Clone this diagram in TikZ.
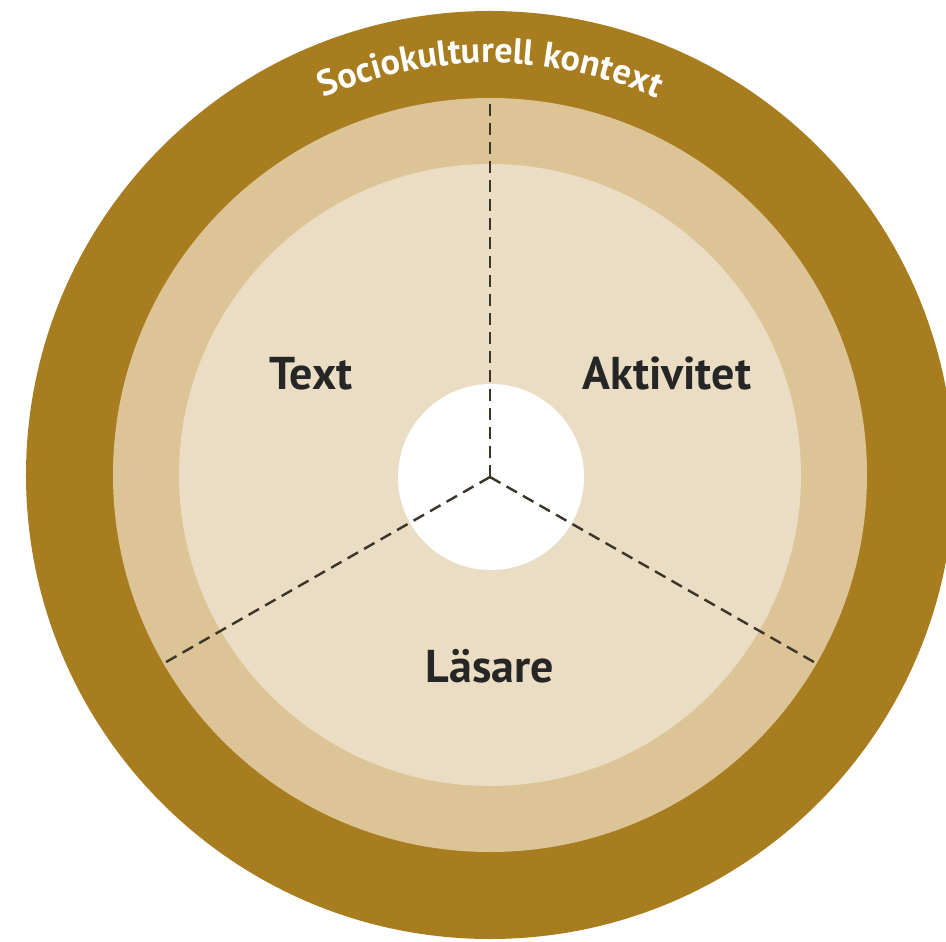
\documentclass[tikz,border=0pt]{standalone}
\usepackage{fontspec}
\setmainfont{PT Sans}
\usetikzlibrary{positioning, decorations.text}
\definecolor{ringdark}{HTML}{A87D20}
\definecolor{ringmid}{HTML}{DCC496}
\definecolor{ringlight}{HTML}{EADDC3}
\definecolor{spoke}{HTML}{3B3428}
\tikzset{
	spokeline/.style={line width=1.2pt, draw=spoke, dash pattern=on 6pt off 3.5pt},
	label/.style={font=\fontsize{23}{26}\selectfont\bfseries, text=black!85},
}

\begin{document}
\begin{tikzpicture}[x=0.5pt, y=0.5pt]
		\useasboundingbox (-490,-466) rectangle (456,475);
		\clip (-490,-466) rectangle (456,475);
		% rings
		\fill[ringdark] (0,0) circle[radius=464];
		\fill[ringmid] (0,0) circle[radius=377];
		\fill[ringlight] (0,0) circle[radius=311];
		\fill[white] (1,-2) circle[radius=93];

		% curved title
		\path[decorate, decoration={text along path, text align=center,
			text={|\fontsize{18}{21}\selectfont\bfseries\color{white}|Sociokulturell kontext}}]
			(150:412) arc[start angle=150, end angle=30, radius=412];

		% spokes
		\coordinate (M) at (0,-2);
		\coordinate (top) at (90:377);
		\coordinate (left) at (210:377);
		\coordinate (right) at (330:377);
		\draw[spokeline] (M) -- (top);
		\draw[spokeline] (M) -- (left);
		\draw[spokeline] (M) -- (right);

		% labels
		\node[label, anchor=base] (text) at (-179,85) {Text};
		\node[label, anchor=base] (aktivitet) at (177,85) {Aktivitet};
		\node[label, anchor=base] (lasare) at (0,-207) {Läsare};
	\end{tikzpicture}
\end{document}
